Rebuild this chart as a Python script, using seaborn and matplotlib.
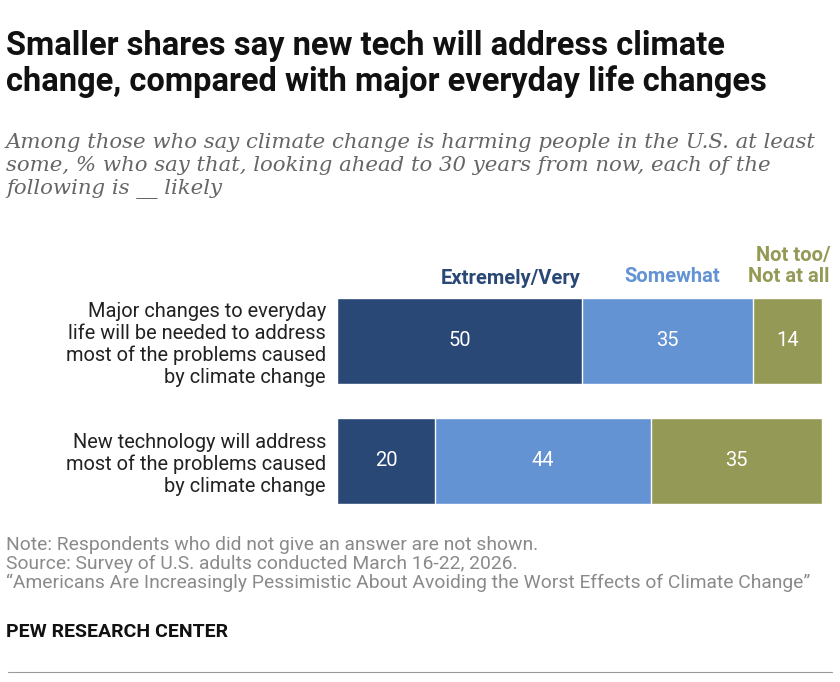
import matplotlib
matplotlib.use("Agg")
import matplotlib.pyplot as plt
import seaborn as sns
import pandas as pd
import numpy as np

categories = ["Major changes to everyday\nlife will be needed to address\nmost of the problems caused\nby climate change",
              "New technology will address\nmost of the problems caused\nby climate change"]
extremely = [50, 20]
somewhat = [35, 44]
not_too = [14, 35]
series_names = ["Extremely/Very", "Somewhat", "Not too/\nNot at all"]
colors = ["#2a4876", "#6493d3", "#949a55"]

sns.set_theme(style="white")
plt.rcParams['font.family'] = ['Roboto', 'DejaVu Sans']

W, H = 840, 682
fig = plt.figure(figsize=(8.4, 6.82), dpi=100)
ax = fig.add_axes([337/W, 1-521/H, 485/W, 240/H])

df = pd.DataFrame({"cat": categories, "e": extremely, "s": somewhat, "n": not_too})
df["c1"] = df["e"]
df["c2"] = df["e"] + df["s"]
df["c3"] = df["e"] + df["s"] + df["n"]
for col, c in zip(["c3", "c2", "c1"], colors[::-1]):
    sns.barplot(data=df, x=col, y="cat", color=c, orient="h", width=0.717,
                ax=ax, saturation=1, edgecolor="white", linewidth=1)
ax.set_xlim(0, 99)
ax.set_ylim(1.5, -0.5)
ax.set_xlabel(""); ax.set_ylabel("")
ax.set_xticks([])
ax.set_yticks([0, 1])
ax.set_yticklabels(categories, fontsize=14.4, color="#222222", linespacing=1.2, ha="right")
ax.tick_params(axis="y", length=0, pad=8)
for s in ax.spines.values():
    s.set_visible(False)

for i in range(2):
    vals = [extremely[i], somewhat[i], not_too[i]]
    left = 0
    for v in vals:
        ax.text(left + v/2, i, str(v), ha="center", va="center", color="white", fontsize=14.5)
        left += v

def ft(x, y, s, **kw):
    fig.text(x/W, 1-y/H, s, **kw)

ft(581, 278, series_names[0], ha="right", va="center", fontsize=14.5, fontweight="bold", color=colors[0])
ft(720, 276, series_names[1], ha="right", va="center", fontsize=14.5, fontweight="bold", color=colors[1])
ft(830, 266, series_names[2], ha="right", va="center", fontsize=14.5, fontweight="bold", color=colors[2], linespacing=1.2)

ft(6, 64, "Smaller shares say new tech will address climate\nchange, compared with major everyday life changes",
   ha="left", va="center", fontsize=23.5, fontweight="bold", color="#111111", linespacing=1.1)
ft(6, 166, "Among those who say climate change is harming people in the U.S. at least\nsome, % who say that, looking ahead to 30 years from now, each of the\nfollowing is __ likely",
   ha="left", va="center", fontsize=15.3, style="italic", color="#666666", family=["DejaVu Serif"], linespacing=1.25)
ft(6, 564, "Note: Respondents who did not give an answer are not shown.\nSource: Survey of U.S. adults conducted March 16-22, 2026.\n\u201cAmericans Are Increasingly Pessimistic About Avoiding the Worst Effects of Climate Change\u201d",
   ha="left", va="center", fontsize=13.9, color="#8a8a8a", linespacing=1.05)
ft(6, 632, "PEW RESEARCH CENTER", ha="left", va="center", fontsize=14, fontweight="bold", color="#111111")
fig.add_artist(plt.Line2D([8/W, 832/W], [1-672/H, 1-672/H], color="#999999", lw=0.8))

fig.savefig("out.png", dpi=100)
